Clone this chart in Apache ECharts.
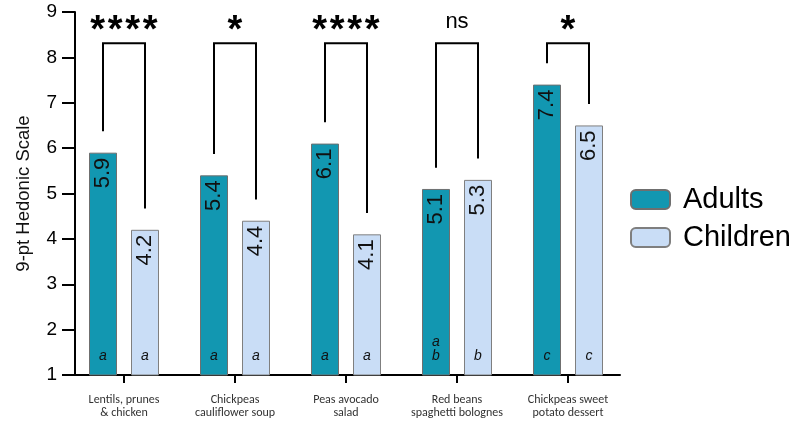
<!DOCTYPE html>
<html>
<head>
<meta charset="utf-8">
<script src="https://cdn.jsdelivr.net/npm/echarts@6/dist/echarts.min.js"></script>
<style>
  html, body { margin: 0; padding: 0; background: #fff; }
  #chart { width: 798px; height: 427px; }
</style>
</head>
<body>
<div id="chart"></div>
<script>
// Dishes on the x axis
const categories = [
  'Lentils, prunes\n& chicken',
  'Chickpeas\ncauliflower soup',
  'Peas avocado\nsalad',
  'Red beans\nspaghetti bolognes',
  'Chickpeas sweet\npotato dessert'
];
// Mean hedonic scores
const adults = [5.9, 5.4, 6.1, 5.1, 7.4];
const children = [4.2, 4.4, 4.1, 5.3, 6.5];
// Post-hoc grouping letters inside each bar
const adultGroups = ['a', 'a', 'a', 'a\nb', 'c'];
const childGroups = ['a', 'a', 'a', 'b', 'c'];
// Adults vs children comparison per dish
const significance = ['****', '*', '****', 'ns', '*'];
// Value axis
const yMin = 1, yMax = 9, yStep = 1;
const yTitle = '9-pt Hedonic Scale';

const BAR_W = 28;          // px
const BAR_GAP = 0.5;       // gap between the two bars, as a share of bar width
const BRACKET_TOP = 8.31;  // y level of the comparison brackets
const LEG_GAP = 0.47;      // space between bar top and bracket leg
const SIG_Y = 8.78;        // y level of the significance marks
const STAR_STEP = 17.5;    // px between neighbouring asterisks

const FONT = "'Liberation Sans', Arial, sans-serif";
const NARROW = "Carlito, 'Liberation Sans Narrow', 'Liberation Sans', Arial, sans-serif";

const bracketData = categories.map((c, i) => [i, adults[i], children[i]]);

const chart = echarts.init(document.getElementById('chart'), null, { renderer: 'canvas' });

function sigMarks(sig, cx, y) {
  // asterisks are laid out one by one so they keep an even spacing
  if (sig.indexOf('*') < 0) {
    return [{
      type: 'text', x: cx, y: y,
      style: { text: sig, align: 'center', verticalAlign: 'middle', font: '22px ' + FONT, fill: '#000' }
    }];
  }
  const n = sig.length;
  const out = [];
  for (let k = 0; k < n; k++) {
    out.push({
      type: 'text',
      x: cx + (k - (n - 1) / 2) * STAR_STEP,
      y: y + 10,
      style: { text: '*', align: 'center', verticalAlign: 'middle', font: 'bold 38px ' + FONT, fill: '#000' }
    });
  }
  return out;
}

chart.setOption({
  animation: false,
  backgroundColor: '#ffffff',
  grid: [
    { left: 68.5, width: 555, top: 12, height: 363 },
    { left: 75, width: 545, top: 12, height: 363 }
  ],
  legend: {
    orient: 'vertical',
    left: 625,
    top: 180,
    itemWidth: 39,
    itemHeight: 19,
    itemGap: 9,
    data: ['Adults', 'Children'],
    textStyle: { fontSize: 29, color: '#000', fontFamily: FONT, padding: [0, 0, 0, 8] }
  },
  xAxis: [
    {
      type: 'category',
      gridIndex: 0,
      data: categories,
      axisLine: { show: false },
      axisTick: { show: true, alignWithLabel: true, length: 8, lineStyle: { color: '#000', width: 2 } },
      axisLabel: { interval: 0, fontSize: 12, lineHeight: 13, color: '#333', fontFamily: NARROW, margin: 18 },
      splitLine: { show: false }
    },
    {
      type: 'value',
      gridIndex: 1,
      min: 0, max: 1,
      axisLine: { show: true, onZero: false, lineStyle: { color: '#000', width: 2 } },
      axisTick: { show: false },
      axisLabel: { show: false },
      splitLine: { show: false }
    }
  ],
  yAxis: [
    {
      type: 'value',
      gridIndex: 0,
      min: yMin, max: yMax, interval: yStep,
      show: false
    },
    {
      type: 'value',
      gridIndex: 1,
      min: yMin, max: yMax, interval: yStep,
      name: yTitle,
      nameLocation: 'middle',
      nameGap: 42,
      nameTextStyle: { fontSize: 18.5, color: '#111', fontFamily: FONT },
      axisLine: { show: true, lineStyle: { color: '#000', width: 2 } },
      axisTick: { show: true, length: 13, lineStyle: { color: '#000', width: 2 } },
      axisLabel: { fontSize: 19, color: '#000', fontFamily: FONT, margin: 18 },
      splitLine: { show: false }
    }
  ],
  series: [
    {
      name: 'Adults',
      type: 'bar',
      xAxisIndex: 0, yAxisIndex: 0,
      data: adults,
      barWidth: BAR_W,
      barGap: (BAR_GAP * 100) + '%',
      itemStyle: { color: '#1297b1', borderColor: '#6f6f6f', borderWidth: 1 },
      label: {
        show: true, position: 'insideTop', rotate: 90, align: 'right', verticalAlign: 'middle',
        distance: 5, fontSize: 22, color: '#111', fontFamily: FONT,
        formatter: p => p.value.toFixed(1)
      }
    },
    {
      name: 'Children',
      type: 'bar',
      xAxisIndex: 0, yAxisIndex: 0,
      data: children,
      barWidth: BAR_W,
      barGap: (BAR_GAP * 100) + '%',
      itemStyle: { color: '#c9ddf6', borderColor: '#7f7f7f', borderWidth: 1 },
      label: {
        show: true, position: 'insideTop', rotate: 90, align: 'right', verticalAlign: 'middle',
        distance: 5, fontSize: 22, color: '#111', fontFamily: FONT,
        formatter: p => p.value.toFixed(1)
      }
    },
    {
      // comparison brackets, significance marks and grouping letters
      name: 'comparisons',
      type: 'custom',
      xAxisIndex: 0, yAxisIndex: 0,
      data: bracketData,
      encode: { x: 0, y: [1, 2] },
      z: 5,
      renderItem: function (params, api) {
        const i = params.dataIndex;
        const idx = api.value(0);
        const a = api.value(1);
        const c = api.value(2);
        const cx = api.coord([idx, yMin])[0];
        const off = BAR_W * (1 + BAR_GAP) / 2;
        const xl = cx - off, xr = cx + off;
        const yTop = api.coord([idx, BRACKET_TOP])[1];
        const yA = api.coord([idx, a + LEG_GAP])[1];
        const yC = api.coord([idx, c + LEG_GAP])[1];
        const yBase = api.coord([idx, yMin])[1];
        const ySig = api.coord([idx, SIG_Y])[1];
        return {
          type: 'group',
          children: [
            {
              type: 'polyline',
              shape: { points: [[xl, yA], [xl, yTop], [xr, yTop], [xr, yC]] },
              style: { stroke: '#000', lineWidth: 2, fill: null }
            },
            ...sigMarks(significance[i], cx, ySig),
            {
              type: 'text',
              x: xl, y: yBase - 12,
              style: {
                text: adultGroups[i],
                align: 'center', verticalAlign: 'bottom',
                font: 'italic 14px ' + FONT, lineHeight: 14,
                fill: '#111'
              }
            },
            {
              type: 'text',
              x: xr, y: yBase - 12,
              style: {
                text: childGroups[i],
                align: 'center', verticalAlign: 'bottom',
                font: 'italic 14px ' + FONT, lineHeight: 14,
                fill: '#111'
              }
            }
          ]
        };
      }
    }
  ]
});
</script>
</body>
</html>
